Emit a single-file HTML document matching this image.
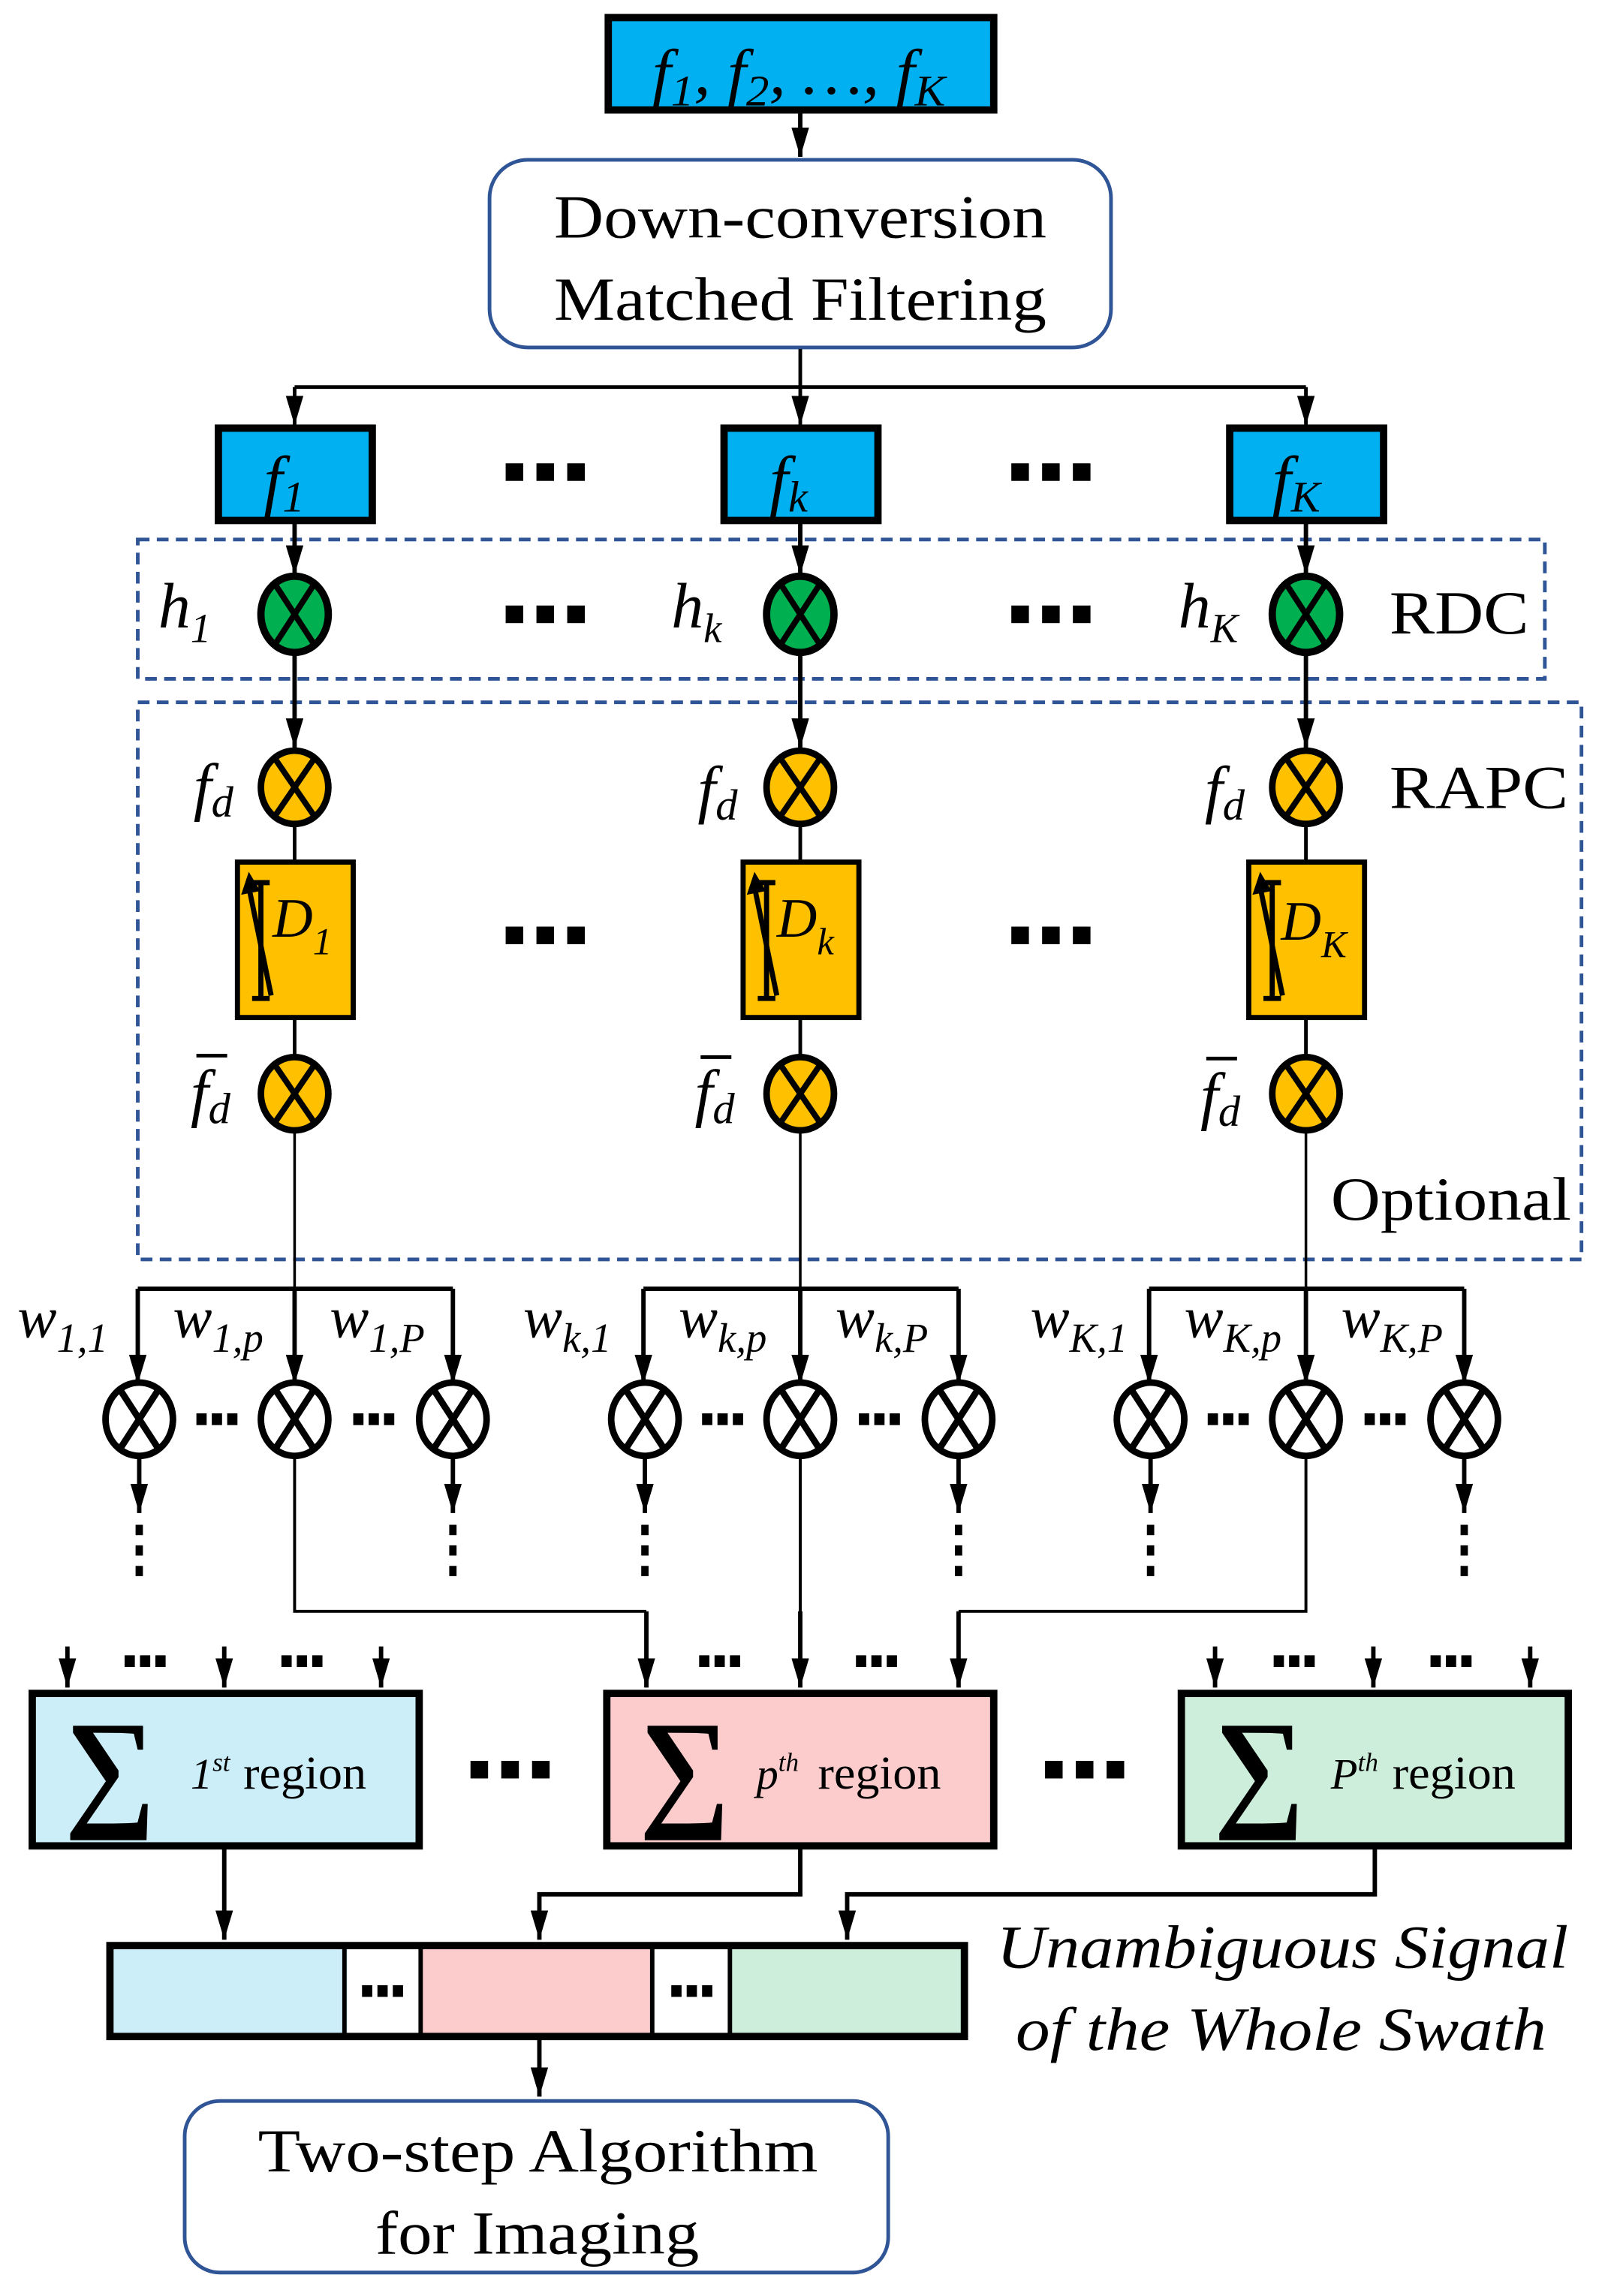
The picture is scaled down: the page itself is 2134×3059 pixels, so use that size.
<!DOCTYPE html>
<html><head><meta charset="utf-8"><style>
html,body{margin:0;padding:0;background:#fff}
svg{display:block}
text{font-family:"Liberation Serif","Times New Roman",Times,serif;fill:#000}
.it{font-style:italic}
</style></head><body>
<svg width="2134" height="3059" viewBox="0 0 1093 1566" preserveAspectRatio="none" xmlns="http://www.w3.org/2000/svg" font-family="Liberation Serif, Times New Roman, serif">
<defs>
<marker id="A" viewBox="0 0 20 12" refX="20" refY="6" markerWidth="20" markerHeight="12" orient="auto" markerUnits="userSpaceOnUse"><path d="M0,0 L20,6 L0,12 Z" fill="#000"/></marker>
<g id="dots3"><rect x="-27" y="-6" width="12" height="12"/><rect x="-6" y="-6" width="12" height="12"/><rect x="15" y="-6" width="12" height="12"/></g>
<g id="dotsS"><rect x="-14" y="-4" width="7" height="8"/><rect x="-3.5" y="-4" width="7" height="8"/><rect x="7" y="-4" width="7" height="8"/></g>
</defs>
<g stroke="#000" fill="none">
<rect x="415" y="12" width="263" height="63" fill="#00B0F0" stroke-width="5"/>
<line x1="546" y1="76" x2="546" y2="107" stroke-width="3" marker-end="url(#A)"/>
<rect x="334" y="109" width="424" height="128" rx="26" stroke="#2F5597" stroke-width="2.5" fill="#fff"/>
<line x1="546" y1="238" x2="546" y2="264" stroke-width="2.5"/>
<line x1="201" y1="264" x2="891" y2="264" stroke-width="2.5"/>
<line x1="201" y1="264" x2="201" y2="290" stroke-width="2.5" marker-end="url(#A)"/>
<line x1="546" y1="264" x2="546" y2="290" stroke-width="2.5" marker-end="url(#A)"/>
<line x1="891" y1="264" x2="891" y2="290" stroke-width="2.5" marker-end="url(#A)"/>
<rect x="149" y="292" width="105" height="63" fill="#00B0F0" stroke-width="5"/>
<rect x="494" y="292" width="105" height="63" fill="#00B0F0" stroke-width="5"/>
<rect x="839" y="292" width="105" height="63" fill="#00B0F0" stroke-width="5"/>
<rect x="94" y="368" width="960" height="95" stroke="#2F5597" stroke-width="2.5" stroke-dasharray="8,5"/>
<rect x="94" y="479" width="985" height="380" stroke="#2F5597" stroke-width="2.5" stroke-dasharray="8,5"/>
</g>
<g fill="#000">
<use href="#dots3" x="372" y="322"/><use href="#dots3" x="717" y="322"/>
<use href="#dots3" x="372" y="419"/><use href="#dots3" x="717" y="419"/>
<use href="#dots3" x="372" y="638"/><use href="#dots3" x="717" y="638"/>
<use href="#dots3" x="348" y="1207"/><use href="#dots3" x="740" y="1207"/>
</g>
<g stroke="#000" fill="none">
<g id="col">
<line x1="201" y1="357" x2="201" y2="392" stroke-width="3" marker-end="url(#A)"/>
<ellipse cx="201" cy="419" rx="23" ry="26" fill="#00B050" stroke-width="5"/>
<path d="M188,399 L214,439 M214,399 L188,439" stroke-width="4"/>
<line x1="201" y1="445" x2="201" y2="510" stroke-width="3" marker-end="url(#A)"/>
<ellipse cx="201" cy="537" rx="23" ry="25" fill="#FFC000" stroke-width="4.5"/>
<path d="M188,518 L214,556 M214,518 L188,556" stroke-width="4"/>
<line x1="201" y1="562" x2="201" y2="588" stroke-width="2.5"/>
<rect x="162" y="588" width="79" height="106" fill="#FFC000" stroke-width="3.5"/>
<path d="M172,602 H184 M178,602 V681 M172,681 H184" stroke-width="3.5"/>
<path d="M170,606 L185,679" stroke-width="3.5"/>
<path d="M166,609 L170,597 L176,607 Z" fill="#000" stroke-width="2"/>
<line x1="201" y1="694" x2="201" y2="720" stroke-width="2.5"/>
<ellipse cx="201" cy="746" rx="23" ry="25" fill="#FFC000" stroke-width="4.5"/>
<path d="M188,727 L214,765 M214,727 L188,765" stroke-width="4"/>
<line x1="201" y1="771" x2="201" y2="944" stroke-width="1.8"/>
<line x1="94" y1="879" x2="309" y2="879" stroke-width="3"/>
<line x1="94" y1="879" x2="94" y2="944" stroke-width="3" marker-end="url(#A)"/>
<line x1="201" y1="879" x2="201" y2="944" stroke-width="3" marker-end="url(#A)"/>
<line x1="309" y1="879" x2="309" y2="944" stroke-width="3" marker-end="url(#A)"/>
<g stroke-width="4.5">
<ellipse cx="95" cy="968" rx="23" ry="25"/><path d="M82,948 L108,988 M108,948 L82,988"/>
<ellipse cx="201" cy="968" rx="23" ry="25"/><path d="M188,948 L214,988 M214,948 L188,988"/>
<ellipse cx="309" cy="968" rx="23" ry="25"/><path d="M296,948 L322,988 M322,948 L296,988"/>
</g>
<line x1="95" y1="993" x2="95" y2="1032" stroke-width="3" marker-end="url(#A)"/>
<line x1="309" y1="993" x2="309" y2="1032" stroke-width="3" marker-end="url(#A)"/>
<line x1="95" y1="1040" x2="95" y2="1076" stroke-width="5" stroke-dasharray="7,7"/>
<line x1="309" y1="1040" x2="309" y2="1076" stroke-width="5" stroke-dasharray="7,7"/>
<g fill="#000" stroke="none"><use href="#dotsS" x="148" y="968"/><use href="#dotsS" x="255" y="968"/></g>
</g>
<use href="#col" x="345"/>
<use href="#col" x="690"/>
<polyline points="201,993 201,1099 441,1099" stroke-width="2"/>
<line x1="441" y1="1099" x2="441" y2="1151" stroke-width="3" marker-end="url(#A)"/>
<line x1="546" y1="993" x2="546" y2="1100" stroke-width="2"/>
<line x1="546" y1="1099" x2="546" y2="1151" stroke-width="3" marker-end="url(#A)"/>
<polyline points="891,993 891,1099 654,1099" stroke-width="2"/>
<line x1="654" y1="1099" x2="654" y2="1151" stroke-width="3" marker-end="url(#A)"/>
<g stroke-width="3">
<line x1="46" y1="1123" x2="46" y2="1151" marker-end="url(#A)"/>
<line x1="153" y1="1123" x2="153" y2="1151" marker-end="url(#A)"/>
<line x1="260" y1="1123" x2="260" y2="1151" marker-end="url(#A)"/>
<line x1="829" y1="1123" x2="829" y2="1151" marker-end="url(#A)"/>
<line x1="937" y1="1123" x2="937" y2="1151" marker-end="url(#A)"/>
<line x1="1044" y1="1123" x2="1044" y2="1151" marker-end="url(#A)"/>
</g>
<rect x="22" y="1155" width="264" height="104" fill="#CCEEF9" stroke-width="5"/>
<rect x="414" y="1155" width="264" height="104" fill="#FCCCCC" stroke-width="5"/>
<rect x="806" y="1155" width="264" height="104" fill="#CCEEDA" stroke-width="5"/>
<line x1="153" y1="1261" x2="153" y2="1323" stroke-width="3" marker-end="url(#A)"/>
<polyline points="546,1261 546,1292 368,1292 368,1323" stroke-width="3" marker-end="url(#A)"/>
<polyline points="938,1261 938,1292 578,1292 578,1323" stroke-width="3" marker-end="url(#A)"/>
<rect x="75" y="1327" width="162" height="62" fill="#CCEEF9" stroke="none"/>
<rect x="287" y="1327" width="158" height="62" fill="#FCCCCC" stroke="none"/>
<rect x="498" y="1327" width="160" height="62" fill="#CCEEDA" stroke="none"/>
<rect x="75" y="1327" width="583" height="62" stroke-width="5"/>
<line x1="235" y1="1327" x2="235" y2="1389" stroke-width="3"/>
<line x1="287" y1="1327" x2="287" y2="1389" stroke-width="3"/>
<line x1="445" y1="1327" x2="445" y2="1389" stroke-width="3"/>
<line x1="498" y1="1327" x2="498" y2="1389" stroke-width="3"/>
<line x1="368" y1="1391" x2="368" y2="1430" stroke-width="3" marker-end="url(#A)"/>
<rect x="126" y="1433" width="480" height="117" rx="24" stroke="#2F5597" stroke-width="2.5" fill="#fff"/>
</g>
<g fill="#000">
<use href="#dotsS" x="99" y="1133"/><use href="#dotsS" x="206" y="1133"/>
<use href="#dotsS" x="491" y="1133"/><use href="#dotsS" x="598" y="1133"/>
<use href="#dotsS" x="883" y="1133"/><use href="#dotsS" x="990" y="1133"/>
<use href="#dotsS" x="261" y="1358"/><use href="#dotsS" x="472" y="1358"/>
</g>
<text x="445" y="64" font-size="44" class="it" textLength="200" lengthAdjust="spacingAndGlyphs">f<tspan font-size="30" dy="8">1</tspan><tspan dy="-8">, f</tspan><tspan font-size="30" dy="8">2</tspan><tspan dy="-8">, …, f</tspan><tspan font-size="30" dy="8">K</tspan></text>
<text x="378" y="162" font-size="42" textLength="336" lengthAdjust="spacingAndGlyphs">Down-conversion</text>
<text x="378" y="218" font-size="42" textLength="336" lengthAdjust="spacingAndGlyphs">Matched Filtering</text>
<text x="180" y="343" font-size="46" class="it">f<tspan font-size="30" dy="6">1</tspan></text>
<text x="525" y="343" font-size="46" class="it">f<tspan font-size="30" dy="6">k</tspan></text>
<text x="868" y="343" font-size="46" class="it">f<tspan font-size="30" dy="6">K</tspan></text>
<text x="108" y="428" font-size="44" class="it">h<tspan font-size="28" dy="10">1</tspan></text>
<text x="458" y="428" font-size="44" class="it">h<tspan font-size="28" dy="10">k</tspan></text>
<text x="804" y="428" font-size="44" class="it">h<tspan font-size="28" dy="10">K</tspan></text>
<text x="948" y="432" font-size="42" textLength="95" lengthAdjust="spacingAndGlyphs">RDC</text>
<text x="948" y="551" font-size="42" textLength="122" lengthAdjust="spacingAndGlyphs">RAPC</text>
<text x="908" y="832" font-size="42" textLength="164" lengthAdjust="spacingAndGlyphs">Optional</text>
<g font-size="44" class="it">
<text x="132" y="551">f<tspan font-size="30" dy="6">d</tspan></text>
<text x="476" y="553">f<tspan font-size="30" dy="6">d</tspan></text>
<text x="822" y="553">f<tspan font-size="30" dy="6">d</tspan></text>
<text x="130" y="760">f<tspan font-size="30" dy="6">d</tspan></text>
<text x="474" y="760">f<tspan font-size="30" dy="6">d</tspan></text>
<text x="819" y="762">f<tspan font-size="30" dy="6">d</tspan></text>
</g>
<g stroke="#000" stroke-width="2.5"><line x1="134" y1="720" x2="155" y2="720"/><line x1="478" y1="721" x2="499" y2="721"/><line x1="823" y1="722" x2="844" y2="722"/></g>
<text x="186" y="639" font-size="38" class="it">D<tspan font-size="26" dy="12">1</tspan></text>
<text x="530" y="639" font-size="38" class="it">D<tspan font-size="26" dy="12">k</tspan></text>
<text x="874" y="641" font-size="38" class="it">D<tspan font-size="26" dy="12">K</tspan></text>
<g font-size="40" class="it">
<text x="12" y="912">w<tspan font-size="28" dy="10">1,1</tspan></text>
<text x="118" y="912">w<tspan font-size="28" dy="10">1,p</tspan></text>
<text x="225" y="912">w<tspan font-size="28" dy="10">1,P</tspan></text>
<text x="357" y="912">w<tspan font-size="28" dy="10">k,1</tspan></text>
<text x="463" y="912">w<tspan font-size="28" dy="10">k,p</tspan></text>
<text x="570" y="912">w<tspan font-size="28" dy="10">k,P</tspan></text>
<text x="703" y="912">w<tspan font-size="28" dy="10">K,1</tspan></text>
<text x="808" y="912">w<tspan font-size="28" dy="10">K,p</tspan></text>
<text x="915" y="912">w<tspan font-size="28" dy="10">K,P</tspan></text>
</g>
<text x="44" y="1236" font-size="90" font-weight="bold" textLength="62" lengthAdjust="spacingAndGlyphs">∑</text>
<text x="436" y="1236" font-size="90" font-weight="bold" textLength="62" lengthAdjust="spacingAndGlyphs">∑</text>
<text x="828" y="1236" font-size="90" font-weight="bold" textLength="62" lengthAdjust="spacingAndGlyphs">∑</text>
<text x="130" y="1220" font-size="30" class="it">1<tspan font-size="18" dy="-12">st</tspan></text>
<text x="166" y="1220" font-size="32" textLength="84" lengthAdjust="spacingAndGlyphs">region</text>
<text x="516" y="1220" font-size="30" class="it">p<tspan font-size="18" dy="-12">th</tspan></text>
<text x="558" y="1220" font-size="32" textLength="84" lengthAdjust="spacingAndGlyphs">region</text>
<text x="908" y="1220" font-size="30" class="it">P<tspan font-size="18" dy="-12">th</tspan></text>
<text x="950" y="1220" font-size="32" textLength="84" lengthAdjust="spacingAndGlyphs">region</text>
<text x="680" y="1342" font-size="42" class="it" textLength="390" lengthAdjust="spacingAndGlyphs">Unambiguous Signal</text>
<text x="693" y="1398" font-size="42" class="it" textLength="362" lengthAdjust="spacingAndGlyphs">of the Whole Swath</text>
<text x="176" y="1481" font-size="42" textLength="382" lengthAdjust="spacingAndGlyphs">Two-step Algorithm</text>
<text x="256" y="1537" font-size="42" textLength="221" lengthAdjust="spacingAndGlyphs">for Imaging</text>
</svg>
</body></html>
